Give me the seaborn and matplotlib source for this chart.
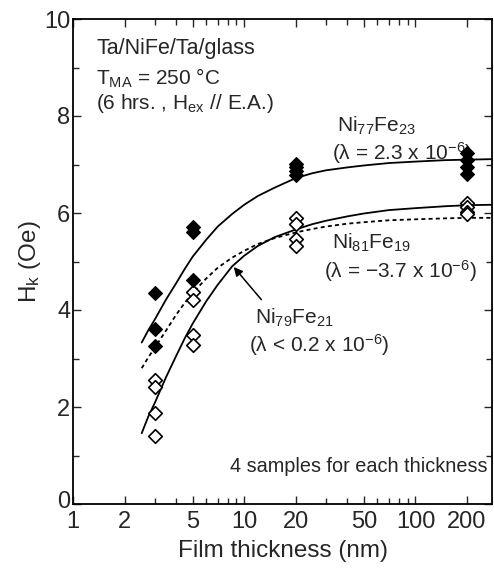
import numpy as np
import pandas as pd
import matplotlib
matplotlib.use("Agg")
import matplotlib.pyplot as plt
import matplotlib.transforms as mtransforms
import seaborn as sns
from matplotlib.ticker import FixedLocator, NullFormatter, FixedFormatter

# ---- data ----
# Ni77Fe23 measured points (filled diamonds)
t_filled = [3, 3, 3, 5, 5, 5, 20, 20, 20, 20, 200, 200, 200, 200]
hk_filled = [4.36, 3.60, 3.26, 5.72, 5.60, 4.62, 7.02, 6.95, 6.87, 6.78, 7.23, 7.09, 6.95, 6.80]

# Ni81Fe19 / Ni79Fe21 measured points (open diamonds)
t_open = [3, 3, 3, 3, 5, 5, 5, 5, 20, 20, 20, 20, 200, 200, 200, 200]
hk_open = [2.55, 2.42, 1.87, 1.41, 4.38, 4.21, 3.48, 3.28, 5.89, 5.77, 5.46, 5.31, 6.20, 6.12, 6.03, 5.97]

# fitted curves
t_curve = [2.52, 2.75, 3, 3.5, 4, 4.5, 5, 6, 7, 8.5, 10, 12, 15, 20, 25, 30, 40, 50, 70, 100, 150, 200, 280]
hk_77 = [3.33, 3.58, 3.80, 4.22, 4.55, 4.85, 5.10, 5.45, 5.72, 5.98, 6.17, 6.35, 6.52, 6.72, 6.82, 6.88,
         6.94, 6.98, 7.03, 7.06, 7.09, 7.10, 7.11]
hk_81 = [2.80, 3.02, 3.22, 3.58, 3.90, 4.15, 4.35, 4.65, 4.87, 5.08, 5.22, 5.36, 5.48, 5.60, 5.67, 5.72,
         5.78, 5.81, 5.85, 5.87, 5.89, 5.90, 5.90]
hk_79 = [1.46, 1.80, 2.08, 2.62, 3.05, 3.42, 3.72, 4.18, 4.52, 4.90, 5.12, 5.32, 5.50, 5.66, 5.77, 5.84,
         5.93, 5.99, 6.06, 6.10, 6.14, 6.16, 6.17]

x_ticks = [1, 2, 5, 10, 20, 50, 100, 200]
x_minor = [3, 4, 6, 7, 8, 9, 30, 40, 60, 70, 80, 90]
y_ticks = [0, 2, 4, 6, 8, 10]

# ---- style ----
sns.set_style("ticks")
FONT = ["Liberation Sans", "DejaVu Sans"]
plt.rcParams["font.family"] = FONT
plt.rcParams["mathtext.fontset"] = "custom"
plt.rcParams["mathtext.rm"] = "Liberation Sans"
plt.rcParams["mathtext.it"] = "Liberation Sans"

fig = plt.figure(figsize=(4.94, 5.70), dpi=100)
ax = fig.add_axes([73 / 494, 1 - 504 / 570, 419 / 494, 485 / 570])

curves = pd.DataFrame({"t": t_curve, "a": hk_77, "b": hk_81, "c": hk_79})
sns.lineplot(data=curves, x="t", y="a", ax=ax, color="black", lw=1.3)
sns.lineplot(data=curves, x="t", y="b", ax=ax, color="black", lw=1.3, linestyle=(0, (2.2, 1.8)))
sns.lineplot(data=curves, x="t", y="c", ax=ax, color="black", lw=1.3)

df_f = pd.DataFrame({"t": t_filled, "hk": hk_filled})
df_o = pd.DataFrame({"t": t_open, "hk": hk_open})
sns.scatterplot(data=df_o, x="t", y="hk", ax=ax, marker="D", s=48,
                facecolor="white", edgecolor="black", linewidth=1.2, zorder=3)
sns.scatterplot(data=df_f, x="t", y="hk", ax=ax, marker="D", s=48,
                color="black", edgecolor="black", linewidth=1.0, zorder=4)

ax.set_xscale("log")
ax.set_xlim(1, 280)
ax.set_ylim(0, 10)
ax.xaxis.set_major_locator(FixedLocator(x_ticks))
ax.xaxis.set_major_formatter(FixedFormatter([str(v) for v in x_ticks]))
ax.xaxis.set_minor_locator(FixedLocator(x_minor))
ax.xaxis.set_minor_formatter(NullFormatter())
ax.yaxis.set_major_locator(FixedLocator(y_ticks))
ax.yaxis.set_minor_locator(FixedLocator([1, 3, 5, 7, 9]))
ax.tick_params(which="both", direction="in", top=True, right=True, width=1.0, labelsize=17)
ax.tick_params(axis="x", pad=5)
ax.tick_params(axis="y", pad=2)
ax.tick_params(which="major", length=6)
ax.tick_params(which="minor", length=4)
for s in ax.spines.values():
    s.set_linewidth(1.3)
    s.set_color("black")

# nudge the "0" y-label up a little so it does not touch the "1" x-label
shift = mtransforms.ScaledTranslation(0, 3 / 72, fig.dpi_scale_trans)
ylabels = ax.get_yticklabels()
ylabels[0].set_transform(ylabels[0].get_transform() + shift)

ax.set_xlabel("Film thickness (nm)", fontsize=17.5, labelpad=5)
ax.set_ylabel("H$_\\mathregular{k}$ (Oe)", fontsize=17.5, labelpad=1)

FS = 15.5
FS2 = 15
tf = ax.transAxes
ax.text(0.055, 0.940, "Ta/NiFe/Ta/glass", transform=tf, fontsize=FS, va="center")
ax.text(0.055, 0.878, "T$_\\mathregular{MA}$ = 250 \u00b0C", transform=tf, fontsize=FS2, va="center")
ax.text(0.055, 0.825, "(6 hrs. , H$_\\mathregular{ex}$ // E.A.)", transform=tf, fontsize=FS2, va="center")

ax.text(0.630, 0.780, "Ni$_\\mathregular{77}$Fe$_\\mathregular{23}$", transform=tf, fontsize=FS2, va="center")
ax.text(0.618, 0.724, "(\u03bb = 2.3 x 10$^\\mathregular{-6}$)", transform=tf, fontsize=FS2, va="center")
ax.text(0.618, 0.538, "Ni$_\\mathregular{81}$Fe$_\\mathregular{19}$", transform=tf, fontsize=FS2, va="center")
ax.text(0.600, 0.481, "(\u03bb = \u22123.7 x 10$^\\mathregular{-6}$)", transform=tf, fontsize=FS2, va="center")
ax.text(0.434, 0.384, "Ni$_\\mathregular{79}$Fe$_\\mathregular{21}$", transform=tf, fontsize=FS2, va="center")
ax.text(0.420, 0.328, "(\u03bb < 0.2 x 10$^\\mathregular{-6}$)", transform=tf, fontsize=FS2, va="center")
ax.text(0.990, 0.078, "4 samples for each thickness", transform=tf, fontsize=14.3, va="center", ha="right")

ax.annotate("", xy=(8.48, 4.93), xytext=(12.9, 4.17),
            arrowprops=dict(arrowstyle="-|>", color="black", lw=1.1, mutation_scale=13))

fig.savefig("out.png", dpi=100)
